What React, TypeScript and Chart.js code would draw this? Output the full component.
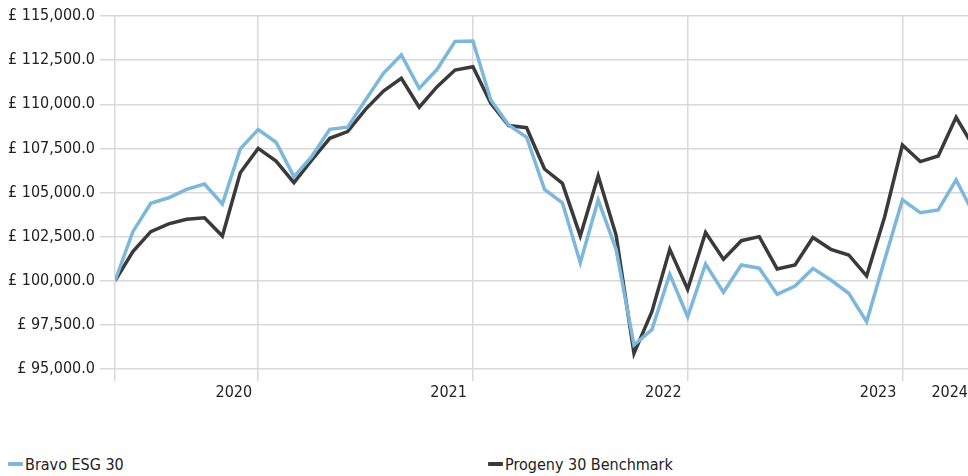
import React, { useEffect, useRef } from "react";
import { Chart, registerables } from "chart.js";

Chart.register(...registerables);

const seriesNames = ["Bravo ESG 30", "Progeny 30 Benchmark"];
const seriesColors = ["#7db7db", "#3a3a3a"];

const bravo = [
  100000, 102780, 104390, 104700, 105180, 105480, 104350, 107470, 108560, 107850,
  105900, 107050, 108580, 108700, 110240, 111750, 112790, 110900, 111980, 113560,
  113580, 110240, 108830, 108130, 105180, 104420, 101020, 104580, 101780, 96360,
  97230, 100370, 97960, 100950, 99350, 100890, 100710, 99230, 99700, 100700,
  100040, 99290, 97680, 101160, 104580, 103860, 104010, 105710, 103750,
];

const progeny = [
  100000, 101650, 102780, 103220, 103480, 103570, 102530, 106120, 107500, 106780,
  105560, 106840, 108070, 108450, 109710, 110750, 111470, 109830, 111000, 111940,
  112130, 110050, 108790, 108670, 106330, 105520, 102540, 105940, 102590, 95880,
  98250, 101780, 99520, 102730, 101220, 102270, 102500, 100670, 100890, 102450,
  101780, 101460, 100270, 103600, 107690, 106750, 107070, 109260, 107550,
];

// x-axis tick positions (month index) and their labels
const xTickPositions = [0, 8, 20, 32, 44, 48];
const xTickLabels = ["", "2020", "2021", "2022", "2023", "2024"];
const xGridHidden = [48];

const yMin = 95000;
const yMax = 115000;
const yStep = 2500;

const FONT = "'DejaVu Sans Condensed', 'DejaVu Sans', sans-serif";
const GRID = "#d9d9d9";
const TEXT = "#222";

export default function App() {
  const ref = useRef<HTMLCanvasElement | null>(null);

  useEffect(() => {
    if (!ref.current) return;
    const chart = new Chart(ref.current, {
      type: "line",
      data: {
        datasets: [
          {
            label: seriesNames[0],
            data: bravo.map((v, i) => ({ x: i, y: v })),
            borderColor: seriesColors[0],
            backgroundColor: seriesColors[0],
            borderWidth: 3.5,
            pointRadius: 0,
            tension: 0,
          },
          {
            label: seriesNames[1],
            data: progeny.map((v, i) => ({ x: i, y: v })),
            borderColor: seriesColors[1],
            backgroundColor: seriesColors[1],
            borderWidth: 3.5,
            pointRadius: 0,
            tension: 0,
          },
        ],
      },
      options: {
        animation: false,
        responsive: false,
        maintainAspectRatio: false,
        layout: { padding: { top: 8, right: 14, bottom: 0, left: 0 } },
        plugins: {
          legend: { display: false },
          tooltip: { enabled: false },
        },
        scales: {
          x: {
            type: "linear",
            min: 0,
            max: 48,
            afterBuildTicks: (scale: any) => {
              scale.ticks = xTickPositions.map((v) => ({ value: v }));
            },
            afterFit: (scale: any) => {
              scale.height = 40;
              scale.paddingLeft = 0;
              scale.paddingRight = 0;
            },
            border: { display: false },
            grid: {
              color: (ctx: any) =>
                ctx.tick && xGridHidden.includes(ctx.tick.value) ? "rgba(0,0,0,0)" : GRID,
              lineWidth: 1.5,
              tickLength: 12,
            },
            ticks: {
              autoSkip: false,
              maxRotation: 0,
              align: "end",
              labelOffset: -6,
              padding: 2,
              color: TEXT,
              font: { family: FONT, size: 16 },
              callback: (v: any) => {
                const idx = xTickPositions.indexOf(Number(v));
                return idx >= 0 ? xTickLabels[idx] : "";
              },
            },
          },
          y: {
            min: yMin,
            max: yMax,
            afterFit: (scale: any) => {
              scale.width = 107;
              scale.paddingTop = 0;
              scale.paddingBottom = 0;
            },
            border: { display: false },
            grid: { color: GRID, lineWidth: 1.5, tickLength: 15 },
            ticks: {
              stepSize: yStep,
              padding: 5,
              color: TEXT,
              font: { family: FONT, size: 16, lineHeight: 1 },
              callback: (v: any) =>
                "£ " +
                Number(v).toLocaleString("en-GB", {
                  minimumFractionDigits: 1,
                  maximumFractionDigits: 1,
                }),
            },
          },
        },
      },
    });
    return () => chart.destroy();
  }, []);

  return (
    <div
      style={{
        width: 968,
        height: 476,
        boxSizing: "border-box",
        padding: "8px 0 0 8px",
        overflow: "hidden",
        background: "#fff",
      }}
    >
      <style>{"html,body{margin:0;padding:0;overflow:hidden;}"}</style>
      <div style={{ width: 960, overflow: "hidden" }}>
        <canvas ref={ref} width={980} height={401} style={{ display: "block", width: 980, height: 401 }} />
      </div>
      <div
        style={{
          marginTop: 46,
          display: "flex",
          fontFamily: FONT,
          fontSize: 16,
          color: TEXT,
          lineHeight: "20px",
          height: 20,
        }}
      >
        {seriesNames.map((name, i) => (
          <div key={name} style={{ width: 492, display: "flex", alignItems: "center" }}>
            <span
              style={{
                display: "inline-block",
                width: 15,
                height: 4,
                borderRadius: 1,
                background: seriesColors[i],
                marginRight: 2,
                position: "relative",
                top: -1,
              }}
            />
            <span>{name}</span>
          </div>
        ))}
      </div>
    </div>
  );
}
